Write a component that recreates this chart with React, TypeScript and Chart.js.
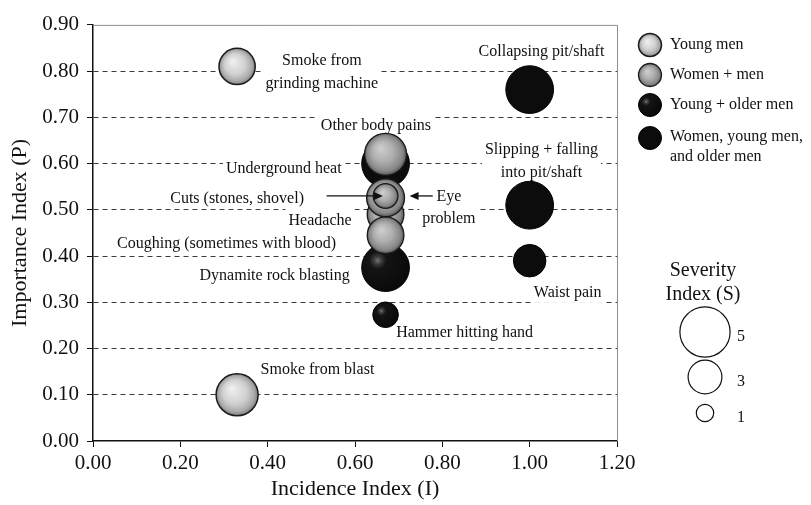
import React, { useEffect, useRef } from 'react';
import { Chart, registerables } from 'chart.js';

Chart.register(...registerables);

const FONT = '"Liberation Serif", "Times New Roman", serif';

// ---- data ----
const hazards = [
  'Smoke from grinding machine',
  'Smoke from blast',
  'Collapsing pit/shaft',
  'Slipping + falling into pit/shaft',
  'Waist pain',
  'Underground heat',
  'Dynamite rock blasting',
  'Hammer hitting hand',
  'Headache',
  'Coughing (sometimes with blood)',
  'Other body pains',
  'Eye problem',
  'Cuts (stones, shovel)',
];
const incidence = [0.33, 0.33, 1.0, 1.0, 1.0, 0.67, 0.67, 0.67, 0.67, 0.67, 0.67, 0.67, 0.67];
const importance = [0.81, 0.10, 0.76, 0.51, 0.39, 0.60, 0.375, 0.273, 0.49, 0.445, 0.62, 0.526, 0.53];
const severity = [3.3, 4.0, 4.7, 4.7, 2.85, 4.7, 4.7, 2.0, 3.35, 3.35, 4.0, 3.5, 1.9];
// 0 young men, 1 women + men, 2 young + older men, 3 women, young men and older men
const groupOf = [0, 0, 3, 3, 3, 3, 2, 2, 1, 1, 1, 1, 1];
const groupNames = ['Young men', 'Women + men', 'Young + older men', 'Women, young men,\nand older men'];

const labelLines = [
  ['Smoke from', 'grinding machine'],
  ['Smoke from blast'],
  ['Collapsing pit/shaft'],
  ['Slipping + falling', 'into pit/shaft'],
  ['Waist pain'],
  ['Underground heat'],
  ['Dynamite rock blasting'],
  ['Hammer hitting hand'],
  ['Headache'],
  ['Coughing (sometimes with blood)'],
  ['Other body pains'],
  ['Eye', 'problem'],
  ['Cuts (stones, shovel)'],
];
const labelX = [0.524, 0.514, 1.027, 1.027, 1.087, 0.437, 0.416, 0.851, 0.52, 0.306, 0.648, 0.815, 0.33];
const labelY = [0.80, 0.156, 0.844, 0.607, 0.323, 0.59, 0.359, 0.237, 0.479, 0.429, 0.684, 0.506, 0.526];

// arrows: [fromX, toX, y] (head at "to")
const arrows = [
  [0.535, 0.664, 0.53],
  [0.778, 0.725, 0.53],
];

const xTickValues = [0, 0.2, 0.4, 0.6, 0.8, 1.0, 1.2];
const yTickValues = [0, 0.1, 0.2, 0.3, 0.4, 0.5, 0.6, 0.7, 0.8, 0.9];
const severityLegend = [5, 3, 1];

const sevRadius = (s: number) => 4.1 * s + 4.6;

function makeFill(c: CanvasRenderingContext2D, g: number, cx: number, cy: number, r: number): any {
  if (g === 0) {
    const gr = c.createRadialGradient(cx - 0.25 * r, cy - 0.3 * r, r * 0.05, cx, cy, r);
    gr.addColorStop(0, '#eeeeee');
    gr.addColorStop(0.55, '#d0d0d0');
    gr.addColorStop(0.85, '#a9a9a9');
    gr.addColorStop(1, '#7c7c7c');
    return gr;
  }
  if (g === 1) {
    const gr = c.createRadialGradient(cx - 0.25 * r, cy - 0.3 * r, r * 0.05, cx, cy, r);
    gr.addColorStop(0, '#cdcdcd');
    gr.addColorStop(0.5, '#adadad');
    gr.addColorStop(0.85, '#868686');
    gr.addColorStop(1, '#555555');
    return gr;
  }
  if (g === 2) {
    const sx = cx - 0.33 * r;
    const sy = cy - 0.3 * r;
    const gr = c.createRadialGradient(sx, sy, 0, sx, sy, r * 1.3);
    gr.addColorStop(0, '#747474');
    gr.addColorStop(0.13, '#3a3a3a');
    gr.addColorStop(0.28, '#141414');
    gr.addColorStop(1, '#0a0a0a');
    return gr;
  }
  return '#0c0c0c';
}
const borderCol = ['#1a1a1a', '#1a1a1a', '#000000', '#000000'];
const borderW = [1.5, 1.3, 1, 1];

const decor = {
  id: 'decor',
  beforeDatasetsDraw(chart: any) {
    const { ctx, chartArea: a, scales } = chart;
    const x = scales.x;
    const y = scales.y;
    ctx.save();
    ctx.strokeStyle = '#8c8c8c';
    ctx.lineWidth = 1;
    ctx.beginPath();
    ctx.moveTo(a.left, a.top + 0.5);
    ctx.lineTo(a.right + 0.5, a.top + 0.5);
    ctx.lineTo(a.right + 0.5, a.bottom);
    ctx.stroke();

    ctx.font = `16px ${FONT}`;
    ctx.textAlign = 'center';
    ctx.textBaseline = 'middle';
    const lh = 22.5;
    labelLines.forEach((lines, i) => {
      const cx = x.getPixelForValue(labelX[i]);
      const cy = y.getPixelForValue(labelY[i]);
      const n = lines.length;
      const w = Math.max(...lines.map((l) => ctx.measureText(l).width));
      ctx.fillStyle = '#ffffff';
      ctx.fillRect(cx - w / 2 - 3, cy - (n * lh) / 2, w + 6, n * lh);
      ctx.fillStyle = '#111111';
      lines.forEach((l, k) => ctx.fillText(l, cx, cy - ((n - 1) * lh) / 2 + k * lh + 1));
    });
    ctx.restore();
  },
  afterDatasetsDraw(chart: any) {
    const { ctx, scales } = chart;
    const x = scales.x;
    const y = scales.y;
    ctx.save();
    ctx.strokeStyle = '#111';
    ctx.fillStyle = '#111';
    ctx.lineWidth = 1.3;
    arrows.forEach(([fx, tx, vy]) => {
      const x1 = x.getPixelForValue(fx);
      const x2 = x.getPixelForValue(tx);
      const py = y.getPixelForValue(vy);
      const dir = x2 > x1 ? 1 : -1;
      ctx.beginPath();
      ctx.moveTo(x1, py);
      ctx.lineTo(x2 - dir * 7, py);
      ctx.stroke();
      ctx.beginPath();
      ctx.moveTo(x2, py);
      ctx.lineTo(x2 - dir * 9, py - 4);
      ctx.lineTo(x2 - dir * 9, py + 4);
      ctx.closePath();
      ctx.fill();
    });
    ctx.restore();
  },
  afterDraw(chart: any) {
    const { ctx } = chart;
    ctx.save();
    // group legend
    const ly = [45, 75, 105, 138];
    ctx.font = `16px ${FONT}`;
    ctx.textAlign = 'left';
    ctx.textBaseline = 'middle';
    groupNames.forEach((name, g) => {
      const cx = 650;
      const cy = ly[g];
      const r = 11.5;
      ctx.beginPath();
      ctx.arc(cx, cy, r, 0, Math.PI * 2);
      ctx.fillStyle = makeFill(ctx, g, cx, cy, r);
      ctx.fill();
      ctx.lineWidth = borderW[g];
      ctx.strokeStyle = borderCol[g];
      ctx.stroke();
      ctx.fillStyle = '#111';
      name.split('\n').forEach((t, k) => ctx.fillText(t, 670, cy + k * 20 - (g === 3 ? 1 : 0)));
    });
    // severity legend
    ctx.textAlign = 'center';
    ctx.font = `20px ${FONT}`;
    ctx.fillText('Severity', 703, 271);
    ctx.fillText('Index (S)', 703, 295);
    const sy = [332, 377, 413];
    ctx.font = `16px ${FONT}`;
    severityLegend.forEach((s, k) => {
      const r = sevRadius(s);
      ctx.beginPath();
      ctx.arc(705, sy[k], r, 0, Math.PI * 2);
      ctx.fillStyle = '#fff';
      ctx.fill();
      ctx.lineWidth = 1.2;
      ctx.strokeStyle = '#111';
      ctx.stroke();
      ctx.fillStyle = '#111';
      ctx.textAlign = 'left';
      ctx.fillText(String(s), 737, sy[k] + 5);
    });
    ctx.restore();
  },
};

export default function App() {
  const ref = useRef<HTMLCanvasElement | null>(null);
  useEffect(() => {
    if (!ref.current) return;
    const datasets = [1, 0, 2, 3].map((g) => ({
      label: groupNames[g],
      data: hazards
        .map((h, i) => ({ x: incidence[i], y: importance[i], r: sevRadius(severity[i]), g: groupOf[i], name: h }))
        .filter((p) => p.g === g),
      backgroundColor: (c: any) => {
        const chart = c.chart;
        if (c.type !== 'data' || !chart.chartArea || !chart.scales.x) return g === 3 ? '#0c0c0c' : '#999';
        const raw = c.raw;
        const cx = chart.scales.x.getPixelForValue(raw.x);
        const cy = chart.scales.y.getPixelForValue(raw.y);
        return makeFill(chart.ctx, g, cx, cy, raw.r);
      },
      borderColor: borderCol[g],
      borderWidth: borderW[g],
      clip: false as any,
    }));

    const tickFont = { family: FONT, size: 21 };
    const chart = new Chart(ref.current, {
      type: 'bubble',
      data: { datasets } as any,
      plugins: [decor],
      options: {
        responsive: false,
        animation: false,
        devicePixelRatio: 1,
        layout: { padding: { top: 20, right: 194, bottom: 0, left: 0 } },
        plugins: { legend: { display: false }, tooltip: { enabled: false } },
        scales: {
          x: {
            type: 'linear',
            min: 0,
            max: 1.2,
            afterFit: (s: any) => {
              s.height = 64;
            },
            afterBuildTicks: (s: any) => {
              s.ticks = xTickValues.map((v) => ({ value: v }));
            },
            ticks: {
              font: tickFont,
              color: '#111',
              padding: 4,
              maxRotation: 0,
              autoSkip: false,
              callback: (v: any) => Number(v).toFixed(2),
            },
            grid: { drawOnChartArea: false, drawTicks: true, tickLength: 6, tickColor: '#111' },
            border: { color: '#111', width: 1.5 },
            title: {
              display: true,
              text: 'Incidence Index (I)',
              font: { family: FONT, size: 22 },
              color: '#111',
              padding: { top: 0, bottom: 3 },
            },
          },
          y: {
            type: 'linear',
            min: 0,
            max: 0.9,
            afterFit: (s: any) => {
              s.width = 93;
            },
            afterBuildTicks: (s: any) => {
              s.ticks = yTickValues.map((v) => ({ value: v }));
            },
            ticks: {
              font: tickFont,
              color: '#111',
              padding: 8,
              autoSkip: false,
              callback: (v: any) => Number(v).toFixed(2),
            },
            grid: {
              color: (c: any) =>
                c.tick && c.tick.value > 0.001 && c.tick.value < 0.899 ? '#3a3a3a' : 'rgba(0,0,0,0)',
              lineWidth: 1,
              tickLength: 6,
              tickColor: '#111',
            },
            border: { color: '#111', width: 1.5, dash: [5, 4] },
            title: {
              display: true,
              text: 'Importance Index (P)',
              font: { family: FONT, size: 22 },
              color: '#111',
              padding: { top: 7, bottom: 0 },
            },
          },
        },
      } as any,
    });
    return () => chart.destroy();
  }, []);

  return (
    <div style={{ position: 'absolute', left: 0, top: 0, width: 811, height: 505, background: '#fff' }}>
      <canvas ref={ref} width={811} height={505} style={{ display: 'block', width: 811, height: 505 }} />
    </div>
  );
}
